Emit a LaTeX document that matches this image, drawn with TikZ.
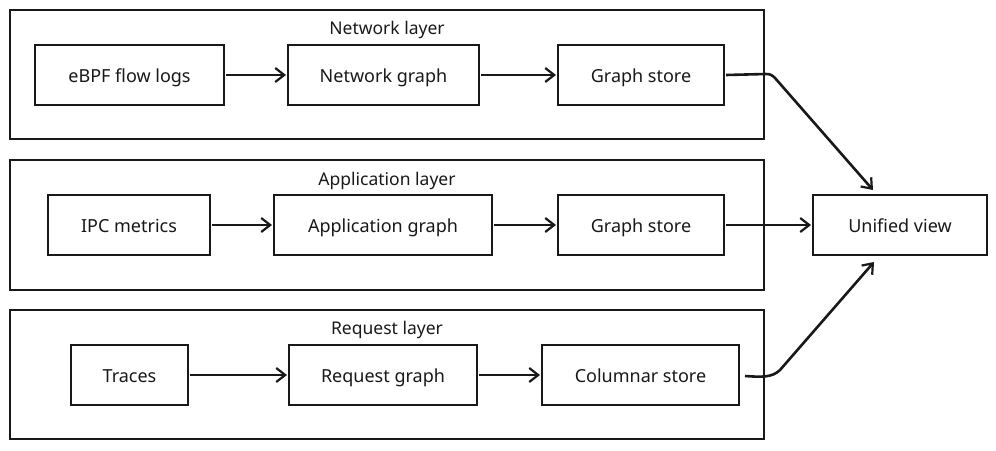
\documentclass[tikz,border=0pt]{standalone}
\usepackage{fontspec}
\setmainfont{Noto Sans}
\usetikzlibrary{arrows.meta}
\begin{document}
\begin{tikzpicture}[x=1pt,y=-1pt,
  layerbox/.style={draw=black!90,line width=2pt},
  stepbox/.style={draw=black!90,line width=2pt,fill=white},
  lbl/.style={font=\fontsize{18}{21}\selectfont,text=black!90,text height=13pt,text depth=4pt,inner sep=0pt,yshift=-2.5pt},
  ttl/.style={font=\fontsize{17.5}{21}\selectfont,text=black!90,text height=13pt,text depth=4pt,inner sep=0pt,yshift=-2.5pt},
  flow/.style={draw=black!90,line width=2.6pt,-{Straight Barb[length=9pt,width=14pt,line width=2.2pt]}},
]
\useasboundingbox (0,0) rectangle (996,450);
% layers
\draw[layerbox] (10,10) rectangle (764,139);
\node[ttl] (tnet) at (387,27) {Network layer};
\draw[layerbox] (10,160) rectangle (764,290);
\node[ttl] (tapp) at (387,178) {Application layer};
\draw[layerbox] (10,310) rectangle (764,439);
\node[ttl] (treq) at (387,327) {Request layer};
% row 1
\draw[stepbox] (35,45) rectangle (224,105);
\node[lbl] (ebpf) at (129.5,75) {eBPF flow logs};
\draw[stepbox] (288,45) rectangle (479,105);
\node[lbl] (ngraph) at (383.5,75) {Network graph};
\draw[stepbox] (558,45) rectangle (724,105);
\node[lbl] (gs1) at (641,75) {Graph store};
% row 2
\draw[stepbox] (48,195) rectangle (210,255);
\node[lbl] (ipc) at (129,225) {IPC metrics};
\draw[stepbox] (274,195) rectangle (492,255);
\node[lbl] (agraph) at (383,225) {Application graph};
\draw[stepbox] (558,195) rectangle (724,255);
\node[lbl] (gs2) at (641,225) {Graph store};
\draw[stepbox] (813,195) rectangle (987,255);
\node[lbl] (uni) at (900,225) {Unified view};
% row 3
\draw[stepbox] (71,345) rectangle (188,405);
\node[lbl] (tr) at (129.5,375) {Traces};
\draw[stepbox] (289,345) rectangle (477,405);
\node[lbl] (rgraph) at (383,375) {Request graph};
\draw[stepbox] (542,345) rectangle (739,405);
\node[lbl] (col) at (640.5,375) {Columnar store};
% anchors
\coordinate (ebpfE) at (226,75);
\coordinate (ngW) at (286,75);
\coordinate (ngE) at (481,75);
\coordinate (gs1W) at (556,75);
\coordinate (gs1E) at (726,75);
\coordinate (ipcE) at (212,225);
\coordinate (agW) at (272,225);
\coordinate (agE) at (494,225);
\coordinate (gs2W) at (556,225);
\coordinate (gs2E) at (726,225);
\coordinate (uniW) at (811,225);
\coordinate (uniNW) at (873,190);
\coordinate (uniSW) at (874,262);
\coordinate (trE) at (190,375);
\coordinate (rgW) at (287,375);
\coordinate (rgE) at (479,375);
\coordinate (colW) at (540,375);
\coordinate (colE) at (745,376);
% arrows
\draw[flow] (ebpfE) -- (ngW);
\draw[flow] (ngE) -- (gs1W);
\draw[flow] (ipcE) -- (agW);
\draw[flow] (agE) -- (gs2W);
\draw[flow] (trE) -- (rgW);
\draw[flow] (rgE) -- (colW);
\draw[flow] (gs2E) -- (uniW);
\draw[flow] (gs1E) -- (766,74) .. controls (770,74) and (772,75) .. (775,78) -- (uniNW);
\draw[flow] (colE) .. controls (760,377) and (772,378) .. (780,370) -- (uniSW);
\end{tikzpicture}
\end{document}
